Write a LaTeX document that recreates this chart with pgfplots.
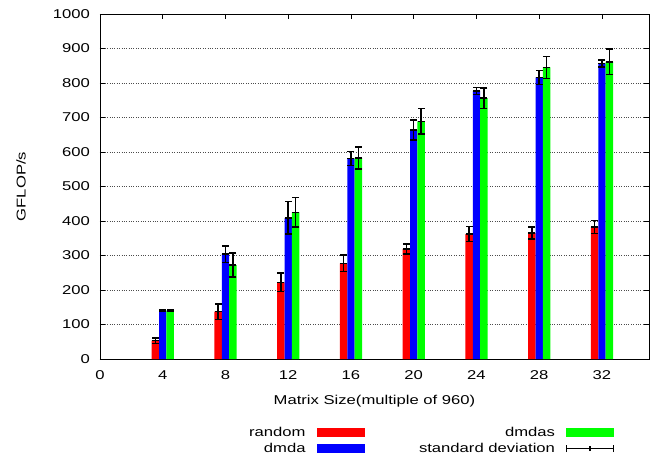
\documentclass[border=0pt]{standalone}
\usepackage{fontspec}
\setmainfont{Liberation Sans}[FakeStretch=1.3]
\usepackage{pgfplots}
\usepackage{pgfplotstable}
\pgfplotsset{compat=1.18}

% x  random err  dmda err  dmdas err
\pgfplotstableread{
x  r   re  b   be  g   ge
4  53  8   140 2   140 2
8  137 22  304 24  272 35
12 222 27  409 47  425 43
16 277 24  581 20  583 32
20 319 15  664 29  689 37
24 362 22  777 10  756 30
28 365 17  816 20  845 32
32 383 19  857 10  861 37
}\gflops

\begin{document}
\fontsize{12.8bp}{15bp}\selectfont
\begin{tikzpicture}
\useasboundingbox (-100bp,-97bp) rectangle (557bp,359bp);
\begin{axis}[
  scale only axis,
  width=549bp, height=345bp,
  xmin=0, xmax=35, ymin=0, ymax=1000,
  xtick={0,4,...,32}, ytick={0,100,...,1000},
  tick align=inside, xtick pos=both, ytick pos=both,
  major tick length=5bp,
  tick style={black, line width=0.8bp},
  axis line style={black, line width=0.8bp},
  ymajorgrids, grid style={dotted, black!70, line width=0.7bp},
  /pgf/number format/assume math mode=true,
  /pgf/number format/1000 sep={},
  tick label style={inner sep=0pt},
  yticklabel style={xshift=-10bp},
  xticklabel style={yshift=-11bp},
  xlabel={Matrix Size(multiple of 960)},
  ylabel={GFLOP/s},
  xlabel style={at={(axis description cs:0.5,-0.1217)}, anchor=center},
  ylabel style={at={(axis description cs:-0.144,0.5)}, anchor=center},
  legend columns=2,
  legend plot pos=right,
  legend cell align=right,
  legend style={draw=none, fill=none,
    at={(axis description cs:0.9426,-0.19)}, anchor=north east,
    nodes={inner sep=0pt},
    column sep=11bp,
    /tikz/every even column/.append style={column sep=55bp},
    row sep=5bp},
  bar width=0.47,
  bars/.style={ybar, draw=none, forget plot},
  caps/.style={only marks, forget plot,
    mark=-, mark options={draw=black, mark size=3.5bp, line width=1.5bp}},
  errs/.style={caps,
    error bars/y dir=both, error bars/y explicit,
    error bars/error bar style={draw=black, line width=1.5bp},
    error bars/error mark=none},
]
\addplot[bars, fill=red, bar shift=-0.47] table[x=x, y=r] {\gflops};
\addplot[bars, fill=blue, bar shift=0] table[x=x, y=b] {\gflops};
\addplot[bars, fill=green, bar shift=0.47] table[x=x, y=g] {\gflops};

% standard deviation: bar, centre tick and end caps
\addplot[errs] table[x expr=\thisrow{x}-0.47, y=r, y error=re] {\gflops};
\addplot[caps] table[x expr=\thisrow{x}-0.47, y expr=\thisrow{r}+\thisrow{re}] {\gflops};
\addplot[caps] table[x expr=\thisrow{x}-0.47, y expr=\thisrow{r}-\thisrow{re}] {\gflops};
\addplot[errs] table[x=x, y=b, y error=be] {\gflops};
\addplot[caps] table[x=x, y expr=\thisrow{b}+\thisrow{be}] {\gflops};
\addplot[caps] table[x=x, y expr=\thisrow{b}-\thisrow{be}] {\gflops};
\addplot[errs] table[x expr=\thisrow{x}+0.47, y=g, y error=ge] {\gflops};
\addplot[caps] table[x expr=\thisrow{x}+0.47, y expr=\thisrow{g}+\thisrow{ge}] {\gflops};
\addplot[caps] table[x expr=\thisrow{x}+0.47, y expr=\thisrow{g}-\thisrow{ge}] {\gflops};

\addlegendimage{legend image code/.code={\fill[red] (0bp,-4bp) rectangle (47bp,4bp);}}
\addlegendentry{random}
\addlegendimage{legend image code/.code={\fill[green] (0bp,-4bp) rectangle (47bp,4bp);}}
\addlegendentry{dmdas}
\addlegendimage{legend image code/.code={\fill[blue] (0bp,-4bp) rectangle (47bp,4bp);}}
\addlegendentry{dmda}
\addlegendimage{legend image code/.code={
  \draw[black, line width=1.3bp] (0bp,0bp) -- (47bp,0bp);
  \draw[black, line width=1.3bp] (0bp,-3.5bp) -- (0bp,3.5bp);
  \draw[black, line width=1.3bp] (47bp,-3.5bp) -- (47bp,3.5bp);
  \draw[black, line width=1.3bp] (23.5bp,-2.5bp) -- (23.5bp,2.5bp);}}
\addlegendentry{standard deviation}
\end{axis}
\end{tikzpicture}
\end{document}
